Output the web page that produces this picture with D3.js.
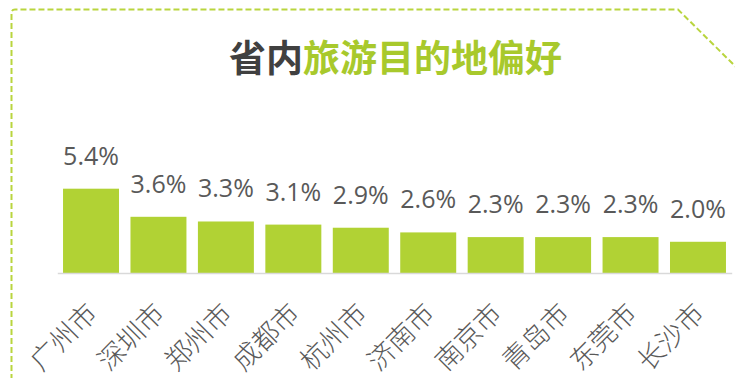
<!DOCTYPE html>
<html>
<head>
<meta charset="utf-8">
<script src="https://cdn.jsdelivr.net/npm/d3@7"></script>
<style>
  html, body { margin: 0; padding: 0; background: #fff; }
  svg { display: block; }
</style>
</head>
<body>
<svg id="chart" width="735" height="378"></svg>
<script>
// Share of intra-province trips by destination city (%)
const cities = ["广州市", "深圳市", "郑州市", "成都市", "杭州市", "济南市", "南京市", "青岛市", "东莞市", "长沙市"];
const shares = [5.4, 3.6, 3.3, 3.1, 2.9, 2.6, 2.3, 2.3, 2.3, 2.0];
const titleParts = [
  { text: "省内", color: "#404040" },
  { text: "旅游目的地偏好", color: "#a8c92c" }
];

const W = 735, H = 378;
const svg = d3.select("#chart");
const cjk = "'Noto Sans CJK SC', 'Noto Sans', sans-serif";
const latin = "'Open Sans', 'Noto Sans', sans-serif";
const textGray = "#595959";
const barGreen = "#b1d234";

// Dashed frame with a clipped top-right corner
const frame = d3.path();
frame.moveTo(11.5, H + 2);
frame.lineTo(11.5, 13);
frame.quadraticCurveTo(11.5, 9.5, 15, 9.5);
frame.lineTo(678, 9.5);
frame.lineTo(W + 2, 68);
svg.append("path")
  .attr("d", frame.toString())
  .attr("fill", "none")
  .attr("stroke", "#b9d53e")
  .attr("stroke-width", 2)
  .attr("stroke-dasharray", "6 3");

// Title
const title = svg.append("text")
  .attr("x", 395.5)
  .attr("y", 72)
  .attr("text-anchor", "middle")
  .attr("font-family", cjk)
  .attr("font-weight", 700)
  .attr("font-size", 37);
title.selectAll("tspan")
  .data(titleParts)
  .join("tspan")
  .attr("fill", d => d.color)
  .text(d => d.text);

// Scales
const baseY = 273;
const x = d3.scaleBand()
  .domain(cities)
  .range([57.3, 731.7])
  .paddingInner(0.17)
  .paddingOuter(0.085);
const y = d3.scaleLinear()
  .domain([0, 5.4])
  .range([baseY, 188.7]);

// Bars
svg.append("g")
  .selectAll("rect")
  .data(cities)
  .join("rect")
  .attr("x", d => x(d))
  .attr("y", (d, i) => y(shares[i]))
  .attr("width", x.bandwidth())
  .attr("height", (d, i) => baseY - y(shares[i]))
  .attr("fill", barGreen);

// Category axis
const axis = svg.append("g")
  .attr("transform", `translate(0,${baseY})`)
  .call(d3.axisBottom(x).tickSize(0).tickPadding(0));
axis.select(".domain")
  .attr("stroke", "#d9d9d9")
  .attr("stroke-width", 1.5);
axis.selectAll(".tick text")
  .attr("font-family", cjk)
  .attr("font-weight", 300)
  .attr("font-size", 27)
  .attr("fill", textGray)
  .attr("text-anchor", "end")
  .attr("dy", 0)
  .attr("transform", "translate(8,42) rotate(-45)");

// Value labels
svg.append("g")
  .selectAll("text")
  .data(cities)
  .join("text")
  .attr("x", d => x(d) + x.bandwidth() / 2)
  .attr("y", (d, i) => y(shares[i]) - 24)
  .attr("text-anchor", "middle")
  .attr("font-family", latin)
  .attr("font-size", 25)
  .attr("fill", textGray)
  .text((d, i) => shares[i].toFixed(1) + "%");
</script>
</body>
</html>
